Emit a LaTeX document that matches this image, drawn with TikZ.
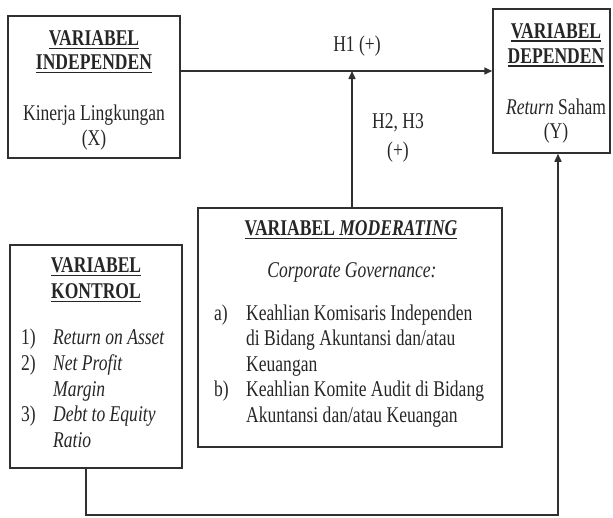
\documentclass[tikz,border=0pt]{standalone}
\usepackage{fontspec}
\setmainfont[FakeStretch=0.78]{Liberation Serif}
\usetikzlibrary{arrows.meta}
\newcommand\hdul[1]{\setbox0=\hbox{#1}\leavevmode\rlap{\rule[-3.5pt]{\wd0}{1.6pt}}\box0}
\newcommand\numcol[1]{\makebox[32pt][l]{#1}}
\definecolor{ink}{HTML}{262626}
\definecolor{edge}{HTML}{303030}
\begin{document}
\begin{tikzpicture}[x=1pt,y=-1pt,
  box/.style={draw=edge,line width=1.5pt,inner sep=0pt,minimum width=#1},
  txt/.style={text=ink,inner sep=0pt,font=\fontsize{22.5}{25}\selectfont},
  arr/.style={draw=edge,line width=1.5pt,-{Triangle[length=8pt,width=7pt]}},
  ln/.style={draw=edge,line width=1.5pt}]
\useasboundingbox (0,0) rectangle (613,517);
% boxes
\node[box=172pt,minimum height=142pt] (indep) at (94,87) {};
\node[box=117pt,minimum height=144pt] (dep) at (551.5,81) {};
\node[box=304pt,minimum height=239pt] (mod) at (350,327.5) {};
\node[box=172pt,minimum height=223pt] (kon) at (96,356.5) {};
% texts
\node[txt,align=center,font=\fontsize{22.5}{24}\selectfont\bfseries] (indephead) at (94,52) {\hdul{VARIABEL}\\\hdul{INDEPENDEN}};
\node[txt,align=center,font=\fontsize{22.5}{25}\selectfont] (indepbody) at (94,128) {Kinerja Lingkungan\\(X)};
\node[txt,align=center,font=\fontsize{22.5}{25}\selectfont\bfseries] (dephead) at (556,45) {\hdul{VARIABEL}\\\hdul{DEPENDEN}};
\node[txt,align=center,font=\fontsize{22.5}{24}\selectfont] (depbody) at (556,121.5) {\textit{Return} Saham\\(Y)};
\node[txt,align=center,font=\fontsize{22.5}{26}\selectfont\bfseries] (konhead) at (96,280) {\hdul{VARIABEL}\\\hdul{KONTROL}};
\node[txt,align=left,anchor=west,font=\fontsize{22.5}{25.75}\selectfont] (konlist) at (21,388.5)
  {\numcol{1)}\textit{Return on Asset}\\\numcol{2)}\textit{Net Profit}\\\numcol{}\textit{Margin}\\\numcol{3)}\textit{Debt to Equity}\\\numcol{}\textit{Ratio}};
\node[txt,font=\fontsize{22.5}{25}\selectfont\bfseries] (modhead) at (351,230) {\hdul{VARIABEL \textit{MODERATING}}};
\node[txt,font=\fontsize{22.5}{25}\selectfont\itshape] (modsub) at (352,272) {Corporate Governance:};
\node[txt,align=left,anchor=west,font=\fontsize{22.5}{25.5}\selectfont] (modlist) at (214,366)
  {\numcol{a)}Keahlian Komisaris Independen\\\numcol{}di Bidang Akuntansi dan/atau\\\numcol{}Keuangan\\\numcol{b)}Keahlian Komite Audit di Bidang\\\numcol{}Akuntansi dan/atau Keuangan};
% labels
\node[txt] (h1lab) at (357,46) {H1 (+)};
\node[txt,align=center,font=\fontsize{22.5}{29}\selectfont] (h23lab) at (398,137.5) {H2, H3\\(+)};
% connectors
\coordinate (h1) at (352,71);
\coordinate (k1) at (86,515);
\coordinate (k2) at (558,515);
\draw[arr] (indep.east |- h1) -- (dep.west |- h1);
\draw[arr] (mod.north -| h1) -- (h1);
\draw[arr] (kon.south -| k1) -- (k1) -- (k2) -- (dep.south -| k2);
\end{tikzpicture}
\end{document}
